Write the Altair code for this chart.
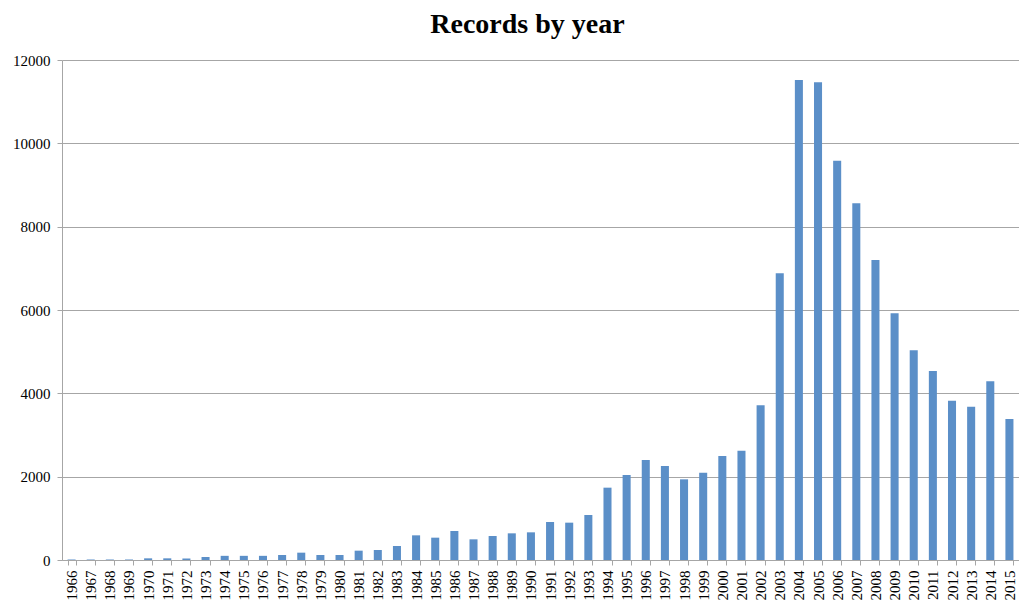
import altair as alt
import pandas as pd

years = [str(y) for y in range(1966, 2016)]
records = [
    12, 12, 12, 12, 40, 40, 36, 72, 100, 100,
    100, 120, 176, 120, 120, 224, 240, 336, 592, 536,
    696, 496, 576, 640, 664, 912, 896, 1080, 1736, 2040,
    2400, 2256, 1936, 2096, 2496, 2624, 3712, 6880, 11520, 11464,
    9584, 8560, 7200, 5920, 5032, 4536, 3824, 3680, 4288, 3384,
]
y_ticks = [0, 2000, 4000, 6000, 8000, 10000, 12000]

df = pd.DataFrame({"year": years, "records": records})

font = "Liberation Serif"
grey = "#a6a6a6"

chart = (
    alt.Chart(df)
    .mark_bar(color="#5b8fc8")
    .encode(
        x=alt.X(
            "year:N",
            sort=years,
            title=None,
            scale=alt.Scale(paddingInner=0.58, paddingOuter=0.29),
            axis=alt.Axis(
                labelAngle=270,
                labelFont=font,
                labelFontSize=15,
                labelColor="#000000",
                labelPadding=5,
                tickBand="extent",
                tickColor=grey,
                tickSize=5,
                domainColor=grey,
                grid=False,
            ),
        ),
        y=alt.Y(
            "records:Q",
            title=None,
            scale=alt.Scale(domain=[0, 12000], nice=False),
            axis=alt.Axis(
                values=y_ticks,
                format="d",
                labelFont=font,
                labelFontSize=15,
                labelColor="#000000",
                labelPadding=7,
                tickColor=grey,
                tickSize=5,
                domainColor=grey,
                gridColor=grey,
                gridWidth=1,
            ),
        ),
    )
    .properties(
        width=957,
        height=500,
        title=alt.TitleParams(
            "Records by year",
            font=font,
            fontSize=28,
            fontWeight="bold",
            color="#000000",
            anchor="middle",
            dx=-13,
            dy=-10,
        ),
        autosize=alt.AutoSizeParams(type="none"),
        padding={"left": 54, "top": 52, "right": 0, "bottom": 40},
    )
    .configure_view(stroke=None)
)

chart.save("out.html", embed_options={"renderer": "svg", "actions": False})
